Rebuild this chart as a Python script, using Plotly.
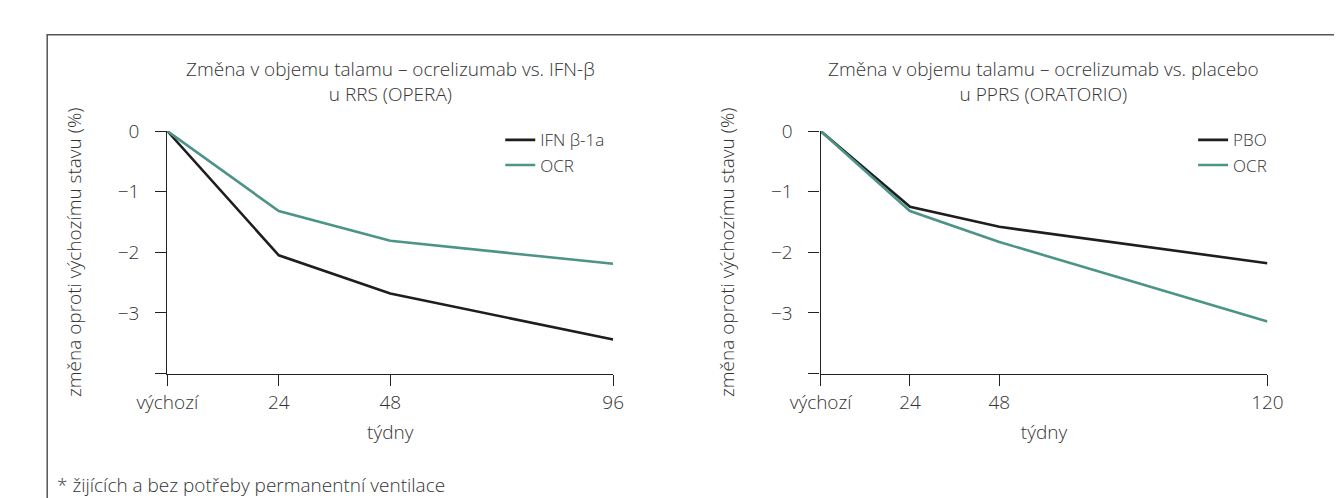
import plotly.graph_objects as go

# ---------------- data ----------------
weeks_left = [0, 24, 48, 96]
ifn_left = [0, -2.05, -2.68, -3.44]
ocr_left = [0, -1.32, -1.81, -2.19]

weeks_right = [0, 24, 48, 120]
pbo_right = [0, -1.25, -1.58, -2.18]
ocr_right = [0, -1.32, -1.83, -3.14]

x_ticks_left = [0, 24, 48, 96]
x_labels_left = ["výchozí", "24", "48", "96"]
x_ticks_right = [0, 24, 48, 120]
x_labels_right = ["výchozí", "24", "48", "120"]
y_ticks = [0, -1, -2, -3, -4]
y_labels = ["0", "−1", "−2", "−3", ""]

title_left = ["Změna v objemu talamu – ocrelizumab vs. IFN-β", "u RRS (OPERA)"]
title_right = ["Změna v objemu talamu – ocrelizumab vs. placebo", "u PPRS (ORATORIO)"]
y_title = "změna oproti výchozímu stavu (%)"
x_title = "týdny"
footnote = "* žijících a bez potřeby permanentní ventilace"

# ---------------- style ----------------
W, H = 1342, 498
FONT = "Open Sans"
TXT = "#333333"
BLACK = "#1e1e1e"
TEAL = "#4d9488"
FS = 19


def px_x(p):
    return p / W


def px_y(p):
    return 1 - p / H


def tfont(size=FS):
    return dict(family=FONT, size=size, color=TXT, weight=300)


fig = go.Figure()
fig.add_trace(go.Scatter(x=weeks_left, y=ifn_left, mode="lines", name="IFN β-1a",
                         line=dict(color=BLACK, width=2.6), xaxis="x", yaxis="y", legend="legend"))
fig.add_trace(go.Scatter(x=weeks_left, y=ocr_left, mode="lines", name="OCR",
                         line=dict(color=TEAL, width=2.6), xaxis="x", yaxis="y", legend="legend"))
fig.add_trace(go.Scatter(x=weeks_right, y=pbo_right, mode="lines", name="PBO",
                         line=dict(color=BLACK, width=2.6), xaxis="x2", yaxis="y2", legend="legend2"))
fig.add_trace(go.Scatter(x=weeks_right, y=ocr_right, mode="lines", name="OCR",
                         line=dict(color=TEAL, width=2.6), xaxis="x2", yaxis="y2", legend="legend2"))

axis_common = dict(showline=True, linecolor="#222", linewidth=1.3, ticks="outside", ticklen=11,
                   tickwidth=1.3, tickcolor="#222", showgrid=False, zeroline=False,
                   tickfont=tfont())

ydom = [px_y(362), px_y(113)]

fig.update_layout(
    width=W, height=H,
    margin=dict(l=0, r=0, t=0, b=0),
    paper_bgcolor="white", plot_bgcolor="white",
    font=dict(family=FONT, color=TXT),
    xaxis=dict(domain=[px_x(133), px_x(595)], range=[0, 96], tickvals=x_ticks_left,
               ticktext=x_labels_left, anchor="y", ticklabelstandoff=0,
               title=dict(text=x_title, font=tfont(), standoff=12),
               **axis_common),
    yaxis=dict(domain=ydom, range=[-4, 0], tickvals=y_ticks, ticktext=y_labels, anchor="x",
               ticklabelstandoff=12,
               title=dict(text=y_title, font=tfont(), standoff=31),
               **axis_common),
    xaxis2=dict(domain=[px_x(810), px_x(1273)], range=[0, 120], tickvals=x_ticks_right,
                ticktext=x_labels_right, anchor="y2", ticklabelstandoff=0,
                title=dict(text=x_title, font=tfont(), standoff=12),
                **axis_common),
    yaxis2=dict(domain=ydom, range=[-4, 0], tickvals=y_ticks, ticktext=y_labels, anchor="x2",
                ticklabelstandoff=12,
                title=dict(text=y_title, font=tfont(), standoff=31),
                **axis_common),
    legend=dict(x=px_x(478), y=px_y(104), xanchor="left", yanchor="top",
                font=tfont(17), itemwidth=30,
                bgcolor="rgba(0,0,0,0)", tracegroupgap=0),
    legend2=dict(x=px_x(1196), y=px_y(104), xanchor="left", yanchor="top",
                 font=tfont(17), itemwidth=30,
                 bgcolor="rgba(0,0,0,0)", tracegroupgap=0),
    showlegend=True,
)

for cx, lines in ((364, title_left), (1041, title_right)):
    fig.add_annotation(text="<br>".join(lines), x=px_x(cx), y=px_y(62), xref="paper", yref="paper",
                       xanchor="center", yanchor="middle", showarrow=False, font=tfont())

fig.add_annotation(text=footnote, x=px_x(17), y=px_y(476), xref="paper", yref="paper",
                   xanchor="left", yanchor="middle", showarrow=False, font=tfont())

# outer frame
fig.add_shape(type="rect", xref="paper", yref="paper",
              x0=px_x(8.5), y0=px_y(14), x1=1.05, y1=-0.05,
              line=dict(color="#555555", width=1.5), fillcolor="rgba(0,0,0,0)", layer="below")

fig.write_html("out.html")
